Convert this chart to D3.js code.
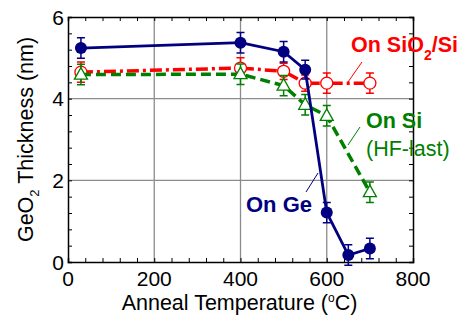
<!DOCTYPE html>
<html>
<head>
<meta charset="utf-8">
<script src="https://cdn.jsdelivr.net/npm/d3@7"></script>
<style>
  body { margin: 0; background: #fff; }
  svg { font-family: Arial, "Liberation Sans", sans-serif; }
</style>
</head>
<body>
<div id="chart"></div>
<script>
const width = 460;
const height = 320;
const margin = {top: 17, right: 47, bottom: 58, left: 68};

// data
const geTemp = [30, 400, 500, 550, 600, 650, 700];
const geThick = [5.24, 5.37, 5.15, 4.71, 1.21, 0.17, 0.33];
const geErr = [0.25, 0.25, 0.25, 0.23, 0.25, 0.25, 0.25];

const sioTemp = [30, 400, 500, 550, 600, 700];
const sioThick = [4.65, 4.75, 4.67, 4.38, 4.38, 4.38];
const sioErr = [0.25, 0.25, 0.2, 0.2, 0.25, 0.25];

const siTemp = [30, 400, 500, 550, 600, 700];
const siThick = [4.59, 4.6, 4.32, 3.85, 3.58, 1.71];
const siErr = [0.25, 0.25, 0.25, 0.25, 0.25, 0.25];

const xTicks = [0, 200, 400, 600, 800];
const yTicks = [0, 2, 4, 6];
const xGrid = [200, 400, 600];
const yGrid = [2, 4];

const svg = d3.select('#chart')
  .append('svg')
  .attr('width', width)
  .attr('height', height);

const x = d3.scaleLinear().domain([0, 800]).range([margin.left, width - margin.right]);
const y = d3.scaleLinear().domain([0, 6]).range([height - margin.bottom, margin.top]);

// grid
svg.selectAll('.xgrid').data(xGrid).enter().append('line')
  .attr('x1', d => x(d)).attr('x2', d => x(d))
  .attr('y1', y(0)).attr('y2', y(6))
  .attr('stroke', '#8c8c8c').attr('stroke-width', 1.3);
svg.selectAll('.ygrid').data(yGrid).enter().append('line')
  .attr('x1', x(0)).attr('x2', x(800))
  .attr('y1', d => y(d)).attr('y2', d => y(d))
  .attr('stroke', '#8c8c8c').attr('stroke-width', 1.3);

// axes with inward minor ticks
const axBottom = svg.append('g').attr('transform', `translate(0,${y(0)})`)
  .call(d3.axisBottom(x).tickValues(d3.range(0, 801, 40)).tickSize(-4).tickFormat(''));
const axTop = svg.append('g').attr('transform', `translate(0,${y(6)})`)
  .call(d3.axisTop(x).tickValues(d3.range(0, 801, 40)).tickSize(-4).tickFormat(''));
const axLeft = svg.append('g').attr('transform', `translate(${x(0)},0)`)
  .call(d3.axisLeft(y).tickValues(d3.range(0, 6.01, 0.4)).tickSize(-4).tickFormat(''));
const axRight = svg.append('g').attr('transform', `translate(${x(800)},0)`)
  .call(d3.axisRight(y).tickValues(d3.range(0, 6.01, 0.4)).tickSize(-4).tickFormat(''));
[axBottom, axTop, axLeft, axRight].forEach(g => {
  g.select('.domain').attr('stroke', '#000').attr('stroke-width', 1.5);
  g.selectAll('.tick line').attr('stroke', '#000').attr('stroke-width', 1);
});

// tick labels
svg.selectAll('.xlab').data(xTicks).enter().append('text')
  .attr('x', d => x(d)).attr('y', 286)
  .attr('text-anchor', 'middle').attr('font-size', 21)
  .text(d => d);
svg.selectAll('.ylab').data(yTicks).enter().append('text')
  .attr('x', x(0) - 4).attr('y', d => y(d) + 7.5)
  .attr('text-anchor', 'end').attr('font-size', 21)
  .text(d => d);

// axis titles
const xt = svg.append('text')
  .attr('x', x(400) - 1).attr('y', 310)
  .attr('text-anchor', 'middle').attr('font-size', 21.5);
xt.append('tspan').text('Anneal Temperature (');
xt.append('tspan').attr('font-size', 12).attr('dy', -8).text('o');
xt.append('tspan').attr('dy', 8).text('C)');

const yt = svg.append('text')
  .attr('transform', `translate(33,${(y(0) + y(6)) / 2}) rotate(-90)`)
  .attr('text-anchor', 'middle').attr('font-size', 21.5);
yt.append('tspan').text('GeO');
yt.append('tspan').attr('font-size', 13).attr('dy', 6).text('2');
yt.append('tspan').attr('dy', -6).text(' Thickness (nm)');

// series
const line = d3.line().x(d => x(d[0])).y(d => y(d[1]));

function series(temps, vals, errs, color, dash, lw, marker) {
  const pts = temps.map((t, i) => [t, vals[i], errs[i]]);
  svg.append('path').datum(pts)
    .attr('d', line)
    .attr('fill', 'none')
    .attr('stroke', color)
    .attr('stroke-width', lw)
    .attr('stroke-dasharray', dash);
  const g = svg.append('g');
  g.selectAll('.eb').data(pts).enter().append('path')
    .attr('d', d => `M${x(d[0])},${y(d[1] - d[2])}V${y(d[1] + d[2])}` +
      `M${x(d[0]) - 4},${y(d[1] - d[2])}h8M${x(d[0]) - 4},${y(d[1] + d[2])}h8`)
    .attr('stroke', color).attr('stroke-width', 1.5).attr('fill', 'none');
  if (marker === 'dot') {
    g.selectAll('.m').data(pts).enter().append('circle')
      .attr('cx', d => x(d[0])).attr('cy', d => y(d[1])).attr('r', 6)
      .attr('fill', color);
  } else if (marker === 'circle') {
    g.selectAll('.m').data(pts).enter().append('circle')
      .attr('cx', d => x(d[0])).attr('cy', d => y(d[1])).attr('r', 6)
      .attr('fill', '#fff').attr('stroke', color).attr('stroke-width', 1.3);
  } else {
    g.selectAll('.m').data(pts).enter().append('path')
      .attr('d', d => `M${x(d[0])},${y(d[1]) - 7}l6.5,11.5h-13z`)
      .attr('fill', '#fff').attr('stroke', color).attr('stroke-width', 1.3);
  }
}

series(sioTemp, sioThick, sioErr, '#ff0000', '12,4,3,4', 3.5, 'circle');
series(siTemp, siThick, siErr, '#008000', '10,5', 3.5, 'triangle');
series(geTemp, geThick, geErr, '#000080', null, 2.8, 'dot');

// labels with leader lines
const s1 = svg.append('text').attr('x', 351).attr('y', 52).attr('fill', '#ff0000')
  .attr('font-size', 21.5).attr('font-weight', 'bold');
s1.append('tspan').text('On SiO');
s1.append('tspan').attr('font-size', 14).attr('dy', 8).text('2');
s1.append('tspan').attr('dy', -8).text('/Si');
svg.append('line').attr('x1', 348).attr('y1', 82).attr('x2', 362).attr('y2', 62)
  .attr('stroke', '#ff0000').attr('stroke-width', 1);

svg.append('text').attr('x', 366).attr('y', 128).attr('fill', '#008000')
  .attr('font-size', 21.5).attr('font-weight', 'bold').text('On Si');
svg.append('text').attr('x', 366).attr('y', 156).attr('fill', '#008000')
  .attr('font-size', 21.5).text('(HF-last)');
svg.append('line').attr('x1', 348).attr('y1', 145).attr('x2', 360).attr('y2', 127)
  .attr('stroke', '#008000').attr('stroke-width', 1);

svg.append('text').attr('x', 246).attr('y', 212).attr('fill', '#000080')
  .attr('font-size', 22).attr('font-weight', 'bold').text('On Ge');
svg.append('line').attr('x1', 306).attr('y1', 192).attr('x2', 318).attr('y2', 173)
  .attr('stroke', '#000080').attr('stroke-width', 1);
</script>
</body>
</html>
